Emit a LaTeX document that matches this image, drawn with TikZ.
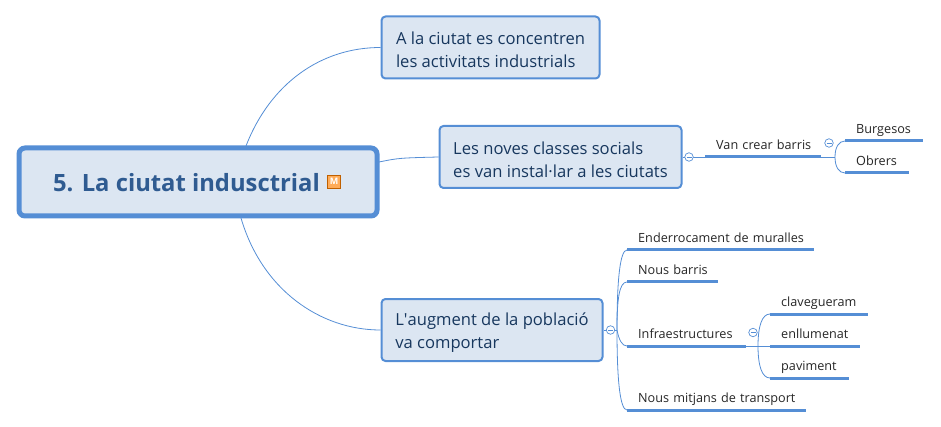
\documentclass[tikz,border=0pt]{standalone}
\usepackage{fontspec}
\setmainfont{Open Sans}
\usetikzlibrary{arrows.meta,positioning}
\definecolor{accent}{HTML}{558ED5}
\definecolor{boxfill}{HTML}{DCE6F2}
\definecolor{boxtext}{HTML}{17375E}
\definecolor{roottext}{HTML}{2F5B91}
\tikzset{
  rootbox/.style={draw=accent,line width=5pt,fill=boxfill,rounded corners=6pt,text=roottext,font=\fontsize{23.8}{28}\selectfont\bfseries,minimum width=358pt,minimum height=68pt,inner sep=0pt,text height=20pt,text depth=0pt},
  topic/.style={draw=accent,line width=2pt,fill=boxfill,rounded corners=4pt,text=boxtext,font=\fontsize{16.6}{23}\selectfont,align=left,inner sep=0pt,minimum height=62pt},
  leaf/.style={anchor=south west,text width=#1,inner xsep=11pt,inner ysep=1.5pt,text height=10pt,text depth=5.5pt,text=black!85,font=\fontsize{12.65}{16}\selectfont,
    execute at begin node=\hbox\bgroup,execute at end node=\egroup,
    append after command={(\tikzlastnode.south west) edge[accent,line width=3pt] (\tikzlastnode.south east)}},
  link/.style={accent,line width=.8pt},
  toggle/.style={circle,draw=accent,fill=white,line width=.7pt,minimum size=8.5pt,inner sep=0pt,
    path picture={\draw[accent,line width=.7pt] ([xshift=-2.5pt]path picture bounding box.center)--([xshift=2.5pt]path picture bounding box.center);}},
}
\begin{document}
\begin{tikzpicture}[x=1pt,y=-1pt]
\useasboundingbox (0,0) rectangle (941,427);
\node[rootbox] (root) at (198,182) {\hspace{-23pt}5. La ciutat indusctrial};
\node[draw=orange!75!black,fill=orange!65,text=white,font=\fontsize{9}{9}\selectfont\bfseries,minimum size=13pt,inner sep=0pt] (memo) at (334,181.5) {M};

\node[topic,minimum width=218pt] (concentren) at (490.5,47.5) {\rule{0pt}{18pt}A la ciutat es concentren\\les activitats industrials};
\node[topic,minimum width=242pt] (classes) at (560.5,157) {\rule{0pt}{18pt}Les noves classes socials\\es van instal·lar a les ciutats};
\node[topic,minimum width=221pt] (poblacio) at (492,330) {\rule{0pt}{18pt}L\textquotesingle augment de la població\\va comportar};

\node[leaf=94pt] (barris) at (705,157) {Van crear barris};
\node[leaf=56pt] (burgesos) at (845,141) {Burgesos};
\node[leaf=42pt] (obrers) at (845,173) {Obrers};

\node[leaf=165pt] (muralles) at (627,250) {Enderrocament de muralles};
\node[leaf=69pt] (nous) at (627,282) {Nous barris};
\node[leaf=96.5pt] (infra) at (627,346) {Infraestructures};
\node[leaf=157pt] (transport) at (627,410) {Nous mitjans de transport};
\node[leaf=76pt] (claveg) at (770,314) {clavegueram};
\node[leaf=68pt] (enllum) at (770,346) {enllumenat};
\node[leaf=57pt] (paviment) at (770,378) {paviment};

\coordinate (rootup) at (246,146);
\coordinate (rootright) at (379,162);
\coordinate (rootdown) at (241,218);
\coordinate (hubb) at (835,157);
\coordinate (hubp) at (617,330);
\coordinate (hubi) at (758,346);

\draw[link] (rootup) .. controls +(24,-62) and +(-60,0) .. (concentren.west);
\draw[link] (rootright) .. controls +(20,-4) .. (classes.west);
\draw[link] (rootdown) .. controls +(21,72) and +(-60,0) .. (poblacio.west);

\draw[link] (classes.east) -- (barris.south west);
\draw[link] (barris.south east) -- (hubb);
\draw[link] (hubb) .. controls +(0,-10) and +(-6,0) .. (burgesos.south west);
\draw[link] (hubb) .. controls +(0,10) and +(-6,0) .. (obrers.south west);

\draw[link] (poblacio.east) -- (hubp);
\draw[link] (hubp) .. controls +(0,-50) and +(-7,0) .. (muralles.south west);
\draw[link] (hubp) .. controls +(0,-30) and +(-8,0) .. (nous.south west);
\draw[link] (hubp) .. controls +(2,10) and +(-5,0) .. (infra.south west);
\draw[link] (hubp) .. controls +(0,50) and +(-7,0) .. (transport.south west);

\draw[link] (infra.south east) -- (enllum.south west);
\draw[link] (hubi) .. controls +(0,-20) and +(-8,0) .. (claveg.south west);
\draw[link] (hubi) .. controls +(0,20) and +(-8,0) .. (paviment.south west);

\node[toggle] (togclasses) at (689,157) {};
\node[toggle] (togbarris) at (829,143) {};
\node[toggle] (togpoblacio) at (610.5,330) {};
\node[toggle] (toginfra) at (753,332.5) {};
\end{tikzpicture}
\end{document}
